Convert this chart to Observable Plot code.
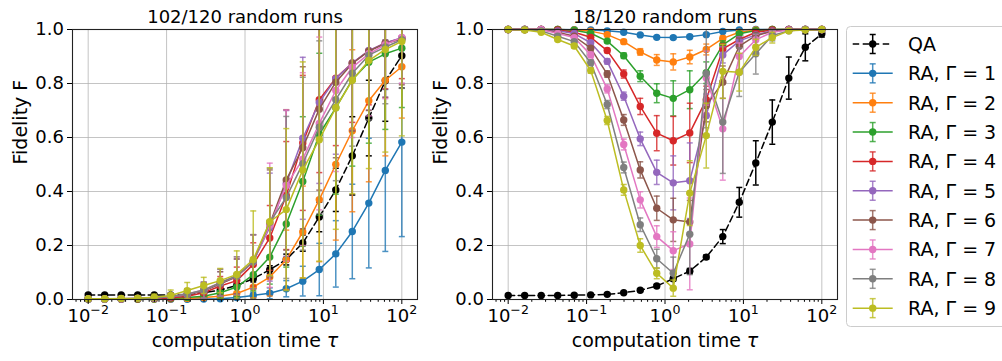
<!DOCTYPE html>
<html><head><meta charset="utf-8">
<script src="https://cdn.jsdelivr.net/npm/d3@7"></script>
<script src="https://cdn.jsdelivr.net/npm/@observablehq/plot@0.6"></script>
<style>
html,body{margin:0;padding:0;background:#fff;overflow:hidden;}
#chart{position:relative;width:1002px;height:361px;overflow:hidden;font-family:"DejaVu Sans";}
#chart > svg{position:absolute;top:0;}
</style></head><body><div id="chart"></div>
<script>
// computation time tau (20 log-spaced points)
const tau = [0.01, 0.016238, 0.026367, 0.042813, 0.069519, 0.112884, 0.183298, 0.297635, 0.483293, 0.78476, 1.274275, 2.069138, 3.359818, 5.455595, 8.858668, 14.384499, 23.357215, 37.926902, 61.584821, 100];
const xTickExps = [-2, -1, 0, 1, 2];
const yTicks = [0, 0.2, 0.4, 0.6, 0.8, 1.0];
const seriesNames = ["QA", "RA, Γ = 1", "RA, Γ = 2", "RA, Γ = 3", "RA, Γ = 4", "RA, Γ = 5", "RA, Γ = 6", "RA, Γ = 7", "RA, Γ = 8", "RA, Γ = 9"];
const seriesColors = ["#000000", "#1f77b4", "#ff7f0e", "#2ca02c", "#d62728", "#9467bd", "#8c564b", "#e377c2", "#7f7f7f", "#bcbd22"];
const leftTitle = "102/120 random runs";
const rightTitle = "18/120 random runs";
const xLabel = "computation time τ";
const yLabel = "Fidelity F";

// left panel (102/120 runs)
const leftQA = [0.017,0.017,0.017,0.017,0.017,0.017,0.019,0.025,0.035,0.052,0.077,0.11,0.148,0.209,0.306,0.406,0.532,0.672,0.81,0.903];
const leftQAErr = [0.003,0.003,0.003,0.003,0.003,0.003,0.004,0.005,0.007,0.01,0.012,0.015,0.02,0.03,0.055,0.08,0.145,0.14,0.15,0.12];
const leftRA1 = [0.001,0.001,0.001,0.001,0.001,0.001,0.001,0.002,0.003,0.007,0.015,0.023,0.04,0.068,0.111,0.169,0.252,0.357,0.478,0.583];
const leftRA1Err = [0,0,0,0,0,0,0,0.002,0.003,0.006,0.012,0.02,0.03,0.055,0.097,0.123,0.175,0.24,0.3,0.35];
const leftRA2 = [0.002,0.002,0.002,0.002,0.002,0.003,0.004,0.007,0.012,0.022,0.046,0.083,0.147,0.25,0.37,0.5,0.625,0.736,0.812,0.862];
const leftRA2Err = [0.002,0.002,0.002,0.002,0.002,0.003,0.005,0.008,0.013,0.025,0.04,0.07,0.11,0.17,0.23,0.28,0.3,0.3,0.28,0.19];
const leftRA3 = [0.002,0.002,0.002,0.002,0.003,0.004,0.007,0.012,0.025,0.046,0.092,0.157,0.28,0.437,0.612,0.71,0.814,0.879,0.91,0.931];
const leftRA3Err = [0.002,0.002,0.002,0.002,0.003,0.005,0.008,0.012,0.02,0.035,0.06,0.1,0.16,0.24,0.3,0.32,0.32,0.3,0.28,0.22];
const leftRA4 = [0.002,0.002,0.002,0.003,0.004,0.006,0.012,0.025,0.05,0.07,0.13,0.228,0.385,0.58,0.74,0.82,0.876,0.921,0.95,0.968];
const leftRA4Err = [0.002,0.002,0.003,0.004,0.005,0.008,0.012,0.02,0.035,0.05,0.08,0.12,0.2,0.25,0.27,0.25,0.22,0.2,0.17,0.15];
const leftRA5 = [0.002,0.002,0.003,0.004,0.006,0.01,0.018,0.032,0.058,0.085,0.14,0.268,0.43,0.597,0.73,0.818,0.876,0.922,0.95,0.97];
const leftRA5Err = [0.002,0.003,0.004,0.006,0.008,0.012,0.02,0.03,0.045,0.065,0.1,0.2,0.27,0.3,0.3,0.28,0.25,0.22,0.2,0.17];
const leftRA6 = [0.002,0.002,0.003,0.004,0.006,0.01,0.018,0.032,0.058,0.085,0.14,0.28,0.443,0.562,0.705,0.805,0.874,0.92,0.948,0.965];
const leftRA6Err = [0.002,0.003,0.004,0.006,0.008,0.012,0.02,0.03,0.045,0.065,0.1,0.2,0.26,0.3,0.3,0.28,0.25,0.22,0.2,0.17];
const leftRA7 = [0.002,0.002,0.003,0.004,0.006,0.011,0.02,0.035,0.062,0.088,0.14,0.275,0.422,0.52,0.652,0.774,0.86,0.91,0.944,0.971];
const leftRA7Err = [0.002,0.003,0.004,0.006,0.008,0.012,0.02,0.03,0.05,0.07,0.1,0.23,0.28,0.32,0.32,0.3,0.26,0.23,0.2,0.17];
const leftRA8 = [0.002,0.002,0.003,0.004,0.006,0.011,0.02,0.035,0.062,0.088,0.14,0.286,0.378,0.503,0.638,0.74,0.838,0.905,0.935,0.962];
const leftRA8Err = [0.002,0.003,0.004,0.006,0.008,0.012,0.02,0.03,0.05,0.07,0.1,0.2,0.3,0.32,0.32,0.3,0.27,0.24,0.21,0.18];
const leftRA9 = [0.003,0.003,0.004,0.005,0.008,0.015,0.033,0.052,0.07,0.093,0.148,0.288,0.333,0.48,0.592,0.71,0.812,0.885,0.926,0.956];
const leftRA9Err = [0.003,0.004,0.005,0.008,0.012,0.02,0.03,0.03,0.045,0.087,0.18,0.2,0.3,0.4,0.45,0.45,0.42,0.4,0.38,0.35];

// right panel (18/120 runs)
const rightQA = [0.015,0.015,0.015,0.015,0.016,0.017,0.019,0.025,0.034,0.05,0.077,0.105,0.157,0.233,0.36,0.506,0.657,0.82,0.934,0.984];
const rightQAErr = [0.003,0.003,0.003,0.003,0.003,0.003,0.003,0.004,0.005,0.006,0.008,0.01,0.008,0.026,0.055,0.082,0.082,0.078,0.05,0.012];
const rightRA1 = [1,1,1,1,0.999,0.998,0.995,0.99,0.98,0.971,0.97,0.973,0.981,0.993,0.998,1,1,1,1,1];
const rightRA1Err = [0,0,0,0,0.001,0.001,0.002,0.003,0.004,0.005,0.005,0.005,0.004,0.003,0.001,0,0,0,0,0];
const rightRA2 = [1,1,1,1,0.998,0.994,0.981,0.955,0.917,0.887,0.88,0.898,0.926,0.967,0.99,0.998,1,1,1,1];
const rightRA2Err = [0,0,0,0,0.001,0.002,0.004,0.008,0.012,0.02,0.03,0.025,0.02,0.01,0.005,0.002,0,0,0,0];
const rightRA3 = [1,1,1,1,0.997,0.986,0.957,0.903,0.827,0.764,0.745,0.777,0.84,0.943,0.984,0.996,1,1,1,1];
const rightRA3Err = [0,0,0,0,0.001,0.003,0.006,0.01,0.02,0.035,0.065,0.07,0.04,0.015,0.006,0.002,0,0,0,0];
const rightRA4 = [1,1,1,0.998,0.99,0.971,0.922,0.835,0.715,0.616,0.588,0.617,0.74,0.928,0.963,0.99,0.998,1,1,1];
const rightRA4Err = [0,0,0,0.001,0.002,0.004,0.008,0.015,0.03,0.065,0.09,0.11,0.05,0.02,0.01,0.004,0.001,0,0,0];
const rightRA5 = [1,1,1,0.995,0.985,0.951,0.882,0.753,0.595,0.471,0.432,0.44,0.681,0.906,0.958,0.98,0.995,1,1,1];
const rightRA5Err = [0,0,0.001,0.002,0.003,0.005,0.01,0.015,0.025,0.045,0.1,0.14,0.08,0.03,0.015,0.008,0.003,0,0,0];
const rightRA6 = [1,1,1,0.99,0.975,0.931,0.835,0.665,0.48,0.338,0.295,0.287,0.718,0.805,0.938,0.977,0.993,1,1,1];
const rightRA6Err = [0,0,0.001,0.002,0.004,0.007,0.012,0.02,0.03,0.045,0.08,0.08,0.06,0.06,0.03,0.01,0.004,0,0,0];
const rightRA7 = [1,1,1,0.985,0.97,0.906,0.78,0.574,0.369,0.233,0.181,0.206,0.82,0.632,0.9,0.962,0.99,0.998,1,1];
const rightRA7Err = [0,0,0.001,0.003,0.005,0.01,0.015,0.02,0.03,0.04,0.07,0.17,0.1,0.19,0.05,0.02,0.008,0.002,0,0];
const rightRA8 = [1,1,0.995,0.975,0.955,0.877,0.722,0.489,0.277,0.151,0.097,0.242,0.836,0.657,0.842,0.91,0.978,0.995,1,1];
const rightRA8Err = [0,0,0.002,0.004,0.006,0.01,0.015,0.02,0.025,0.035,0.06,0.15,0.2,0.19,0.09,0.075,0.02,0.005,0,0];
const rightRA9 = [1,0.998,0.99,0.963,0.939,0.848,0.663,0.406,0.2,0.097,0.042,0.394,0.607,0.845,0.842,0.934,0.97,0.995,0.998,1];
const rightRA9Err = [0,0.001,0.003,0.006,0.008,0.01,0.015,0.02,0.025,0.02,0.03,0.12,0.12,0.1,0.07,0.03,0.02,0.005,0,0];

const leftValues = [leftQA, leftRA1, leftRA2, leftRA3, leftRA4, leftRA5, leftRA6, leftRA7, leftRA8, leftRA9];
const leftErrs = [leftQAErr, leftRA1Err, leftRA2Err, leftRA3Err, leftRA4Err, leftRA5Err, leftRA6Err, leftRA7Err, leftRA8Err, leftRA9Err];
const rightValues = [rightQA, rightRA1, rightRA2, rightRA3, rightRA4, rightRA5, rightRA6, rightRA7, rightRA8, rightRA9];
const rightErrs = [rightQAErr, rightRA1Err, rightRA2Err, rightRA3Err, rightRA4Err, rightRA5Err, rightRA6Err, rightRA7Err, rightRA8Err, rightRA9Err];

const xMajor = xTickExps.map(e => Math.pow(10, e));
const xDomain = [Math.pow(10, -2.2), Math.pow(10, 2.2)];
const xMinor = [];
for (let k = -3; k <= 2; k++) for (let m = 2; m <= 9; m++) {
  const v = m * Math.pow(10, k);
  if (v > xDomain[0] && v < xDomain[1]) xMinor.push(v);
}
const capSymbol = {draw(ctx, size) { const r = Math.sqrt(size / Math.PI); ctx.moveTo(-r, 0); ctx.lineTo(r, 0); }};
const DASH = "6.5,3.5";
const BAR_OPACITY = 0.8;

function makePanel(title, values, errs) {
  const marks = [
    Plot.gridX(xMajor, {stroke: "#b0b0b0", strokeOpacity: 0.75, strokeWidth: 1}),
    Plot.gridY(yTicks, {stroke: "#b0b0b0", strokeOpacity: 0.75, strokeWidth: 1})
  ];
  values.forEach((vals, s) => {
    const data = tau.map((t, i) => ({t, v: vals[i], e: errs[s][i]}));
    const color = seriesColors[s];
    const op = s === 0 ? 1 : BAR_OPACITY;
    marks.push(Plot.ruleX(data, {x: "t", y1: d => d.v - d.e, y2: d => d.v + d.e, stroke: color, strokeOpacity: op, strokeWidth: 1.5, clip: true}));
    marks.push(Plot.dot(data, {x: "t", y: d => d.v + d.e, symbol: capSymbol, r: 3, stroke: color, strokeOpacity: op, strokeWidth: 1.5, fill: "none", clip: true}));
    marks.push(Plot.dot(data, {x: "t", y: d => d.v - d.e, symbol: capSymbol, r: 3, stroke: color, strokeOpacity: op, strokeWidth: 1.5, fill: "none", clip: true}));
    marks.push(Plot.line(data, {x: "t", y: "v", stroke: color, strokeWidth: 1.5, strokeDasharray: s === 0 ? DASH : null}));
    marks.push(Plot.dot(data, {x: "t", y: "v", r: 3.7, fill: color}));
  });
  marks.push(
    Plot.axisX(xMinor, {anchor: "bottom", tickSize: 2.8, tickFormat: () => "", label: null}),
    Plot.axisX(xMajor, {anchor: "bottom", tickSize: 5, tickPadding: 4.5, tickFormat: d => "10^" + Math.round(Math.log10(d)), label: null}),
    Plot.axisY(yTicks, {anchor: "left", tickSize: 5, tickPadding: 3.5, tickFormat: d => d.toFixed(1), label: null}),
    Plot.frame({stroke: "#222", strokeWidth: 1.1}),
    Plot.text([title], {frameAnchor: "top", text: d => d, dy: -12.5, lineAnchor: "middle", fontSize: 18}),
    Plot.text([xLabel], {frameAnchor: "bottom", text: d => d, dy: 41, lineAnchor: "middle", fontSize: 19}),
    Plot.text([yLabel], {frameAnchor: "left", text: d => d, dx: -52, rotate: -90, lineAnchor: "middle", fontSize: 19})
  );
  const svg = Plot.plot({
    width: 430, height: 361,
    marginLeft: 72, marginRight: 13, marginTop: 29, marginBottom: 62,
    x: {type: "log", domain: xDomain, label: null},
    y: {domain: [0, 1], label: null},
    style: {fontFamily: "DejaVu Sans", fontSize: "18px", color: "#000", background: "transparent", overflow: "visible"},
    marks
  });
  const ns = "http://www.w3.org/2000/svg";
  svg.querySelectorAll("text").forEach(t => {
    const s = t.textContent;
    const m = s.match(/^10\^(-?\d+)$/);
    if (m) {
      t.textContent = "";
      const a = document.createElementNS(ns, "tspan"); a.textContent = "10"; t.appendChild(a);
      const b = document.createElementNS(ns, "tspan"); b.textContent = m[1].replace("-", "\u2212");
      b.setAttribute("dy", "-0.6em"); b.setAttribute("font-size", "0.7em"); t.appendChild(b);
    } else if (s === xLabel) {
      t.textContent = "";
      const a = document.createElementNS(ns, "tspan"); a.textContent = "computation time "; t.appendChild(a);
      const b = document.createElementNS(ns, "tspan"); b.textContent = "τ"; b.setAttribute("font-style", "italic"); t.appendChild(b);
    }
  });
  return svg;
}

const chart = document.getElementById("chart");
const left = makePanel(leftTitle, leftValues, leftErrs);
left.style.left = "0px";
chart.appendChild(left);
const right = makePanel(rightTitle, rightValues, rightErrs);
right.style.left = "420px";
chart.appendChild(right);

// legend
const lg = d3.create("svg").attr("width", 162).attr("height", 361).style("left", "840px")
  .attr("font-family", "DejaVu Sans");
lg.append("rect").attr("x", 6.5).attr("y", 26.5).attr("width", 175).attr("height", 300).attr("rx", 4)
  .attr("fill", "#fff").attr("fill-opacity", 0.8).attr("stroke", "#cccccc").attr("stroke-width", 1);
seriesNames.forEach((name, i) => {
  const y = 44 + i * 29.35;
  const color = seriesColors[i];
  const op = i === 0 ? 1 : BAR_OPACITY;
  const g = lg.append("g");
  g.append("line").attr("x1", 32.7).attr("x2", 32.7).attr("y1", y - 9.5).attr("y2", y + 9.5).attr("stroke", color).attr("stroke-opacity", op).attr("stroke-width", 1.5);
  g.append("line").attr("x1", 29.7).attr("x2", 35.7).attr("y1", y - 9.5).attr("y2", y - 9.5).attr("stroke", color).attr("stroke-opacity", op).attr("stroke-width", 1.5);
  g.append("line").attr("x1", 29.7).attr("x2", 35.7).attr("y1", y + 9.5).attr("y2", y + 9.5).attr("stroke", color).attr("stroke-opacity", op).attr("stroke-width", 1.5);
  g.append("line").attr("x1", 12.7).attr("x2", 52.7).attr("y1", y).attr("y2", y).attr("stroke", color).attr("stroke-width", 1.5).attr("stroke-dasharray", i === 0 ? DASH : null);
  g.append("circle").attr("cx", 32.7).attr("cy", y).attr("r", 3.7).attr("fill", color);
  g.append("text").attr("x", 68).attr("y", y).attr("dy", "0.36em").attr("font-size", 19).attr("fill", "#000").text(name);
});
chart.appendChild(lg.node());
</script></body></html>
